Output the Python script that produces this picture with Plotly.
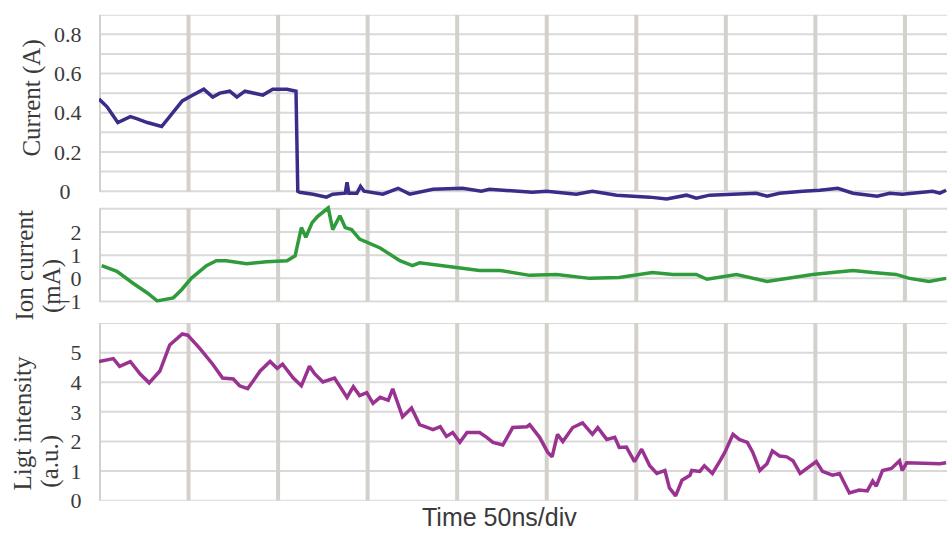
import plotly.graph_objects as go

# ---- data (time in divisions, 50 ns/div) ----
t_cur = [0, 0.09, 0.21, 0.35, 0.42, 0.54, 0.70, 0.79, 0.93, 1.05,
         1.17, 1.27, 1.35, 1.46, 1.54, 1.63, 1.83, 1.94, 2.10, 2.20,
         2.22, 2.24, 2.39, 2.54, 2.61, 2.75, 2.77, 2.79, 2.88, 2.92,
         2.96, 3.17, 3.34, 3.47, 3.73, 4.06, 4.27, 4.36, 4.55, 4.84,
         5.00, 5.33, 5.51, 5.78, 6.15, 6.34, 6.56, 6.67, 6.82, 7.12,
         7.34, 7.46, 7.60, 7.86, 8.05, 8.25, 8.42, 8.69, 8.83, 8.97,
         9.16, 9.31, 9.39, 9.46]
current_a = [0.47, 0.43, 0.35, 0.38, 0.37, 0.35, 0.33, 0.38, 0.46, 0.49,
             0.52, 0.48, 0.50, 0.51, 0.48, 0.51, 0.49, 0.52, 0.52, 0.51,
             0.00, -0.005, -0.015, -0.03, -0.015, -0.01, 0.045, -0.01, -0.01, 0.025,
             0.0, -0.015, 0.015, -0.015, 0.01, 0.015, 0.0, 0.01, 0.005, -0.005,
             0.0, -0.015, 0.0, -0.02, -0.03, -0.04, -0.02, -0.035, -0.02, -0.015,
             -0.01, -0.025, -0.01, 0.0, 0.005, 0.015, -0.01, -0.025, -0.01, -0.015,
             -0.005, 0.0, -0.01, 0.005]

t_ion = [0.03, 0.20, 0.38, 0.54, 0.65, 0.76, 0.83, 0.92, 1.03, 1.20,
         1.31, 1.42, 1.65, 1.87, 2.10, 2.19, 2.26, 2.31, 2.38, 2.44,
         2.56, 2.61, 2.69, 2.75, 2.82, 2.91, 3.14, 3.36, 3.50, 3.58,
         3.73, 3.95, 4.25, 4.48, 4.81, 5.11, 5.48, 5.81, 6.18, 6.41,
         6.67, 6.79, 7.12, 7.46, 7.68, 7.97, 8.19, 8.42, 8.64, 8.90,
         9.05, 9.27, 9.46]
ion_ma = [0.55, 0.30, -0.21, -0.63, -0.97, -0.89, -0.84, -0.50, 0.0, 0.55,
          0.76, 0.76, 0.63, 0.72, 0.76, 0.97, 2.19, 1.77, 2.40, 2.66,
          3.04, 2.10, 2.70, 2.19, 2.10, 1.69, 1.31, 0.76, 0.55, 0.67,
          0.59, 0.51, 0.34, 0.34, 0.13, 0.17, 0.0, 0.04, 0.25, 0.17,
          0.17, -0.04, 0.17, -0.13, 0.0, 0.17, 0.25, 0.34, 0.25, 0.17,
          0.0, -0.13, 0.0]

t_light = [0, 0.09, 0.16, 0.23, 0.35, 0.46, 0.56, 0.68, 0.79, 0.93,
           0.99, 1.13, 1.27, 1.38, 1.50, 1.57, 1.66, 1.80, 1.91, 1.99,
           2.05, 2.17, 2.26, 2.35, 2.41, 2.50, 2.63, 2.77, 2.84, 2.91,
           2.99, 3.06, 3.14, 3.23, 3.28, 3.39, 3.49, 3.58, 3.73, 3.81,
           3.88, 3.95, 4.03, 4.11, 4.25, 4.33, 4.40, 4.51, 4.62, 4.78,
           4.81, 4.92, 5.01, 5.06, 5.12, 5.18, 5.29, 5.40, 5.51, 5.57,
           5.67, 5.76, 5.81, 5.89, 5.98, 6.06, 6.15, 6.23, 6.32, 6.37,
           6.44, 6.51, 6.60, 6.62, 6.71, 6.76, 6.85, 6.93, 6.99, 7.08,
           7.15, 7.24, 7.30, 7.38, 7.46, 7.52, 7.60, 7.68, 7.75, 7.83,
           7.90, 8.01, 8.08, 8.19, 8.27, 8.38, 8.49, 8.58, 8.64, 8.68,
           8.75, 8.85, 8.94, 8.97, 9.02, 9.39, 9.46]
light_au = [4.70, 4.77, 4.80, 4.54, 4.70, 4.28, 3.98, 4.38, 5.26, 5.63,
            5.59, 5.13, 4.61, 4.14, 4.11, 3.88, 3.78, 4.38, 4.70, 4.47,
            4.61, 4.14, 3.88, 4.54, 4.28, 4.01, 4.14, 3.49, 3.85, 3.55,
            3.65, 3.29, 3.49, 3.39, 3.78, 2.83, 3.13, 2.57, 2.40, 2.50,
            2.17, 2.30, 1.97, 2.30, 2.30, 2.14, 1.97, 1.88, 2.47, 2.50,
            2.57, 2.14, 1.64, 1.48, 2.24, 2.00, 2.47, 2.63, 2.24, 2.47,
            2.07, 2.14, 1.80, 1.81, 1.32, 1.74, 1.18, 0.92, 1.02, 0.43,
            0.16, 0.69, 0.86, 1.02, 0.99, 1.18, 0.92, 1.32, 1.64, 2.24,
            2.07, 1.97, 1.64, 1.02, 1.25, 1.68, 1.51, 1.48, 1.35, 0.92,
            1.09, 1.32, 0.99, 0.86, 0.92, 0.26, 0.36, 0.33, 0.66, 0.49,
            1.02, 1.09, 1.35, 1.02, 1.28, 1.25, 1.28]

cur_ticks = [0, 0.2, 0.4, 0.6, 0.8]
cur_ticktext = ["0\u2007", "0.2", "0.4", "0.6", "0.8"]
ion_ticks = [-1, 0, 1, 2]
light_ticks = [0, 1, 2, 3, 4, 5]

cur_grid = [0, 0.1, 0.2, 0.3, 0.4, 0.5, 0.6, 0.7, 0.8, 0.9]
ion_grid = [-1, 0, 1, 2, 3]
light_grid = [0, 1, 2, 3, 4, 5, 6]
div_lines = list(range(10))

# ---- geometry ----
W, H = 947, 541
X_END = 9.47
px = lambda x: x / W
py = lambda y: 1 - y / H

NAVY = "#382d88"
GREEN = "#2f9b3b"
MAGENTA = "#9a3291"
HGRID = "#d9d9d9"
VGRID = "#d4d0cb"
SERIF = "Liberation Serif"

fig = go.Figure()
fig.add_trace(go.Scatter(x=t_cur, y=current_a, mode="lines",
                         line=dict(color=NAVY, width=3.5), xaxis="x", yaxis="y"))
fig.add_trace(go.Scatter(x=t_ion, y=ion_ma, mode="lines",
                         line=dict(color=GREEN, width=3.5), xaxis="x2", yaxis="y2"))
fig.add_trace(go.Scatter(x=t_light, y=light_au, mode="lines",
                         line=dict(color=MAGENTA, width=3.5), xaxis="x3", yaxis="y3"))

shapes = []


def add_grid(xr, yr, hvals, vbottom, vtop):
    for v in hvals:
        shapes.append(dict(type="line", xref=xr, yref=yr, x0=0, x1=X_END, y0=v, y1=v,
                           line=dict(color=HGRID, width=2), layer="below"))
    for d in div_lines:
        shapes.append(dict(type="line", xref=xr, yref=yr, x0=d, x1=d, y0=vbottom, y1=vtop,
                           line=dict(color=VGRID, width=4), layer="below"))


add_grid("x", "y", cur_grid, 0, 0.9)
add_grid("x2", "y2", ion_grid, -1, 3)
add_grid("x3", "y3", light_grid, 0, 6)

xdom = [px(99), 1.0]
xcommon = dict(range=[0, X_END], showgrid=False, zeroline=False, showticklabels=False,
               showline=False, ticks="")


def yaxis_style():
    return dict(showgrid=False, zeroline=False, showline=False, ticks="outside",
                ticklen=12, tickcolor="rgba(0,0,0,0)",
                tickfont=dict(family=SERIF, size=22, color="#3a3a3a"))


fig.update_layout(
    width=W, height=H,
    margin=dict(l=0, r=0, t=0, b=0),
    paper_bgcolor="white", plot_bgcolor="white",
    font=dict(family=SERIF, color="#3a3a3a"),
    showlegend=False,
    xaxis=dict(domain=xdom, anchor="y", **xcommon),
    xaxis2=dict(domain=xdom, anchor="y2", **xcommon),
    xaxis3=dict(domain=xdom, anchor="y3", **xcommon),
    yaxis=dict(domain=[py(206), py(15)], anchor="x", range=[-0.05, 0.9],
               tickvals=cur_ticks, ticktext=cur_ticktext, **yaxis_style()),
    yaxis2=dict(domain=[py(310.2), py(210.3)], anchor="x2", range=[-1.05, 3.15],
                tickvals=ion_ticks, **yaxis_style()),
    yaxis3=dict(domain=[py(513), py(331)], anchor="x3", range=[0, 6],
                tickvals=light_ticks, **yaxis_style()),
    shapes=shapes,
)

title_font = dict(family=SERIF, size=25, color="#3a3a3a")
labels = [
    ("Current (A)", 32, 100),
    ("Ion current", 24, 272),
    ("(mA)", 52, 293),
    ("Ligt intensity", 23, 434),
    ("(a.u.)", 50, 473),
]
for text, x, y in labels:
    fig.add_annotation(text=text, x=px(x), y=py(y), xref="paper", yref="paper",
                       textangle=-90, showarrow=False, xanchor="center", yanchor="middle",
                       font=title_font)

fig.add_annotation(text="Time 50ns/div", x=px(500), y=py(530), xref="paper", yref="paper",
                   showarrow=False, xanchor="center", yanchor="middle",
                   font=dict(family="Liberation Sans", size=25, color="#3a3a3a"))

fig.write_html("out.html")
